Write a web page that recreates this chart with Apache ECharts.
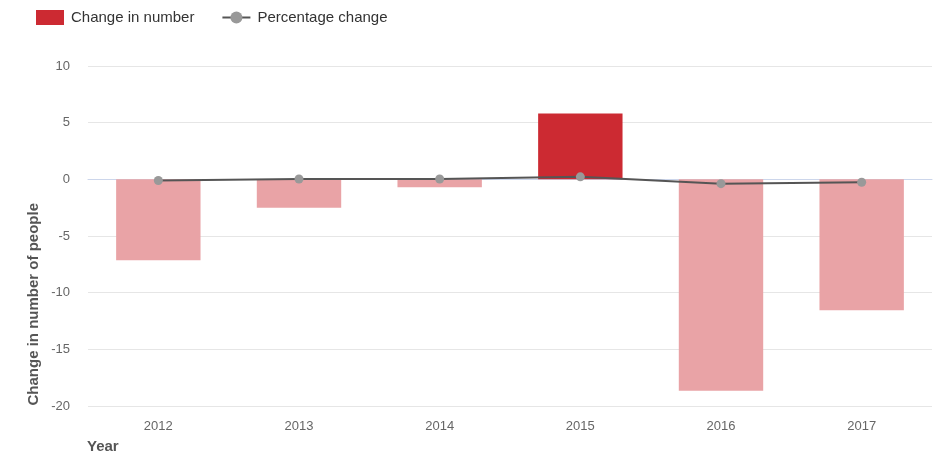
<!DOCTYPE html>
<html><head><meta charset="utf-8">
<script src="https://cdn.jsdelivr.net/npm/echarts@6/dist/echarts.min.js"></script>
<style>html,body{margin:0;padding:0;background:#fff}#c{width:933px;height:454px}</style>
</head><body><div id="c"></div>
<script>
const years = ['2012','2013','2014','2015','2016','2017'];
const changeInNumber = [-7.15, -2.5, -0.7, 5.8, -18.65, -11.55];
const percentageChange = [-0.1, 0.03, 0.03, 0.22, -0.38, -0.26];
const yTicks = [-20, -15, -10, -5, 0, 5, 10];

const FONT = '"Liberation Sans", Arial, sans-serif';
const chart = echarts.init(document.getElementById('c'), null, {renderer: 'canvas'});
chart.setOption({
  animation: false,
  textStyle: {fontFamily: FONT},
  legend: {
    left: 36, top: 10, itemWidth: 28, itemHeight: 15, itemGap: 27, padding: 0,
    textStyle: {fontSize: 15, color: '#333', fontFamily: FONT, padding: [2, 0, 0, 2]},
    data: [
      {name: 'Change in number', icon: 'rect', itemStyle: {color: '#cc2a32'}},
      {name: 'Percentage change'}
    ]
  },
  grid: {left: 88, right: 1, top: 66, bottom: 48, containLabel: false},
  xAxis: {
    type: 'category', data: years,
    axisLine: {lineStyle: {color: '#ccd6eb'}},
    axisTick: {alignWithLabel: true, length: 10, lineStyle: {color: '#ccd6eb'}},
    axisLabel: {color: '#666', fontSize: 13, margin: 14, fontFamily: FONT}
  },
  yAxis: {
    type: 'value', min: yTicks[0], max: yTicks[yTicks.length-1], interval: 5,
    axisLine: {show: false}, axisTick: {show: false},
    splitLine: {lineStyle: {color: '#e6e6e6'}},
    axisLabel: {color: '#666', fontSize: 13, margin: 18, fontFamily: FONT}
  },
  graphic: [
    {type: 'text', left: 26, top: 203, rotation: Math.PI/2,
     style: {text: 'Change in number of people', fill: '#555', font: 'bold 15px ' + FONT}},
    {type: 'text', left: 87, top: 439,
     style: {text: 'Year', fill: '#555', font: 'bold 15px ' + FONT}}
  ],
  series: [
    {
      name: 'Change in number', type: 'bar', barWidth: '60%',
      data: changeInNumber.map(v => ({value: v, itemStyle: {color: v >= 0 ? '#cc2a32' : '#e9a3a6'}})),
      itemStyle: {color: '#cc2a32'}
    },
    {
      name: 'Percentage change', type: 'line', data: percentageChange,
      symbol: 'circle', symbolSize: 9,
      lineStyle: {color: '#555', width: 2},
      itemStyle: {color: '#999'}
    }
  ]
});
</script></body></html>
